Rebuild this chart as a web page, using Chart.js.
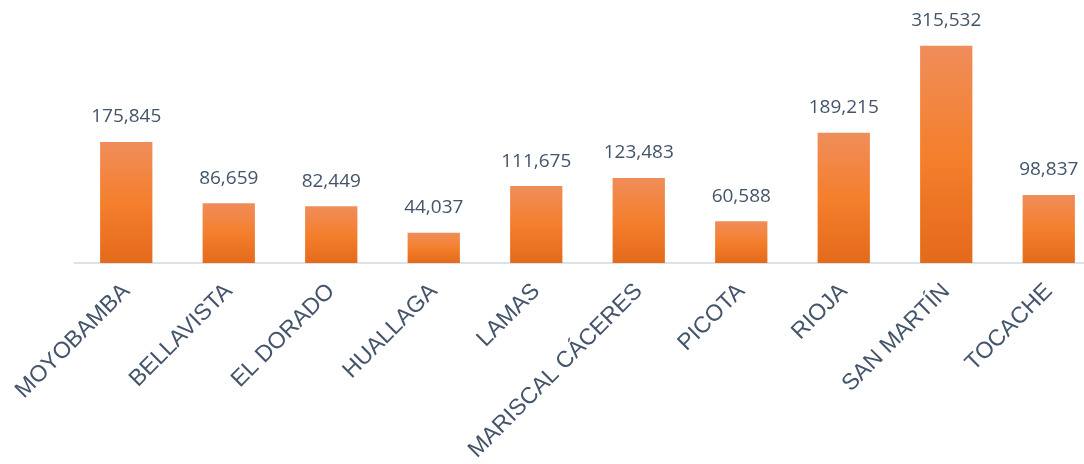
<!DOCTYPE html>
<html>
<head>
<meta charset="utf-8">
<script src="https://cdn.jsdelivr.net/npm/chart.js@4"></script>
<style>
  html, body { margin: 0; padding: 0; background: #ffffff; overflow: hidden; }
  #wrap { width: 1100px; height: 464px; }
</style>
</head>
<body>
<div id="wrap"><canvas id="chart" width="1100" height="464"></canvas></div>
<script>
// Data
const provinces = ['MOYOBAMBA', 'BELLAVISTA', 'EL DORADO', 'HUALLAGA', 'LAMAS',
    'MARISCAL CÁCERES', 'PICOTA', 'RIOJA', 'SAN MARTÍN', 'TOCACHE'];
const population = [175845, 86659, 82449, 44037, 111675, 123483, 60588, 189215, 315532, 98837];

const textColor = '#44546a';

// orange gradient per bar, light at the top, darker at the base
function barFill(context) {
    const chart = context.chart;
    if (!chart.chartArea || context.type !== 'data') return '#f47e2e';
    const y = chart.scales.y;
    const top = y.getPixelForValue(context.raw);
    const bottom = y.getPixelForValue(0);
    const g = chart.ctx.createLinearGradient(0, top, 0, bottom);
    g.addColorStop(0, '#f08d5a');
    g.addColorStop(0.5, '#f47f2d');
    g.addColorStop(1, '#e46a1b');
    return g;
}

// value labels above the bars
const valueLabels = {
    id: 'valueLabels',
    afterDatasetsDraw(chart) {
        const ctx = chart.ctx;
        const meta = chart.getDatasetMeta(0);
        ctx.save();
        ctx.font = '19px "Open Sans", sans-serif';
        ctx.fillStyle = textColor;
        ctx.textAlign = 'center';
        ctx.textBaseline = 'middle';
        meta.data.forEach((bar, i) => {
            ctx.fillText(population[i].toLocaleString('en-US'), bar.x, bar.y - 25);
        });
        ctx.restore();
    }
};

new Chart(document.getElementById('chart'), {
    type: 'bar',
    data: {
        labels: provinces,
        datasets: [{
            data: population,
            backgroundColor: barFill,
            borderWidth: 0,
            categoryPercentage: 1,
            barPercentage: 0.51
        }]
    },
    options: {
        responsive: false,
        animation: false,
        layout: { padding: { left: 75, top: 22, right: 0, bottom: 0 } },
        plugins: { legend: { display: false }, tooltip: { enabled: false } },
        scales: {
            y: { display: false, min: 0, max: 350000 },
            x: {
                afterFit: function(scale) { scale.height = 201; },
                grid: { display: true, drawOnChartArea: false, drawTicks: false },
                border: { display: true, color: '#dde2e8', width: 2 },
                ticks: {
                    color: textColor,
                    font: { family: '"Liberation Sans", Arial, sans-serif', size: 23 },
                    minRotation: 45,
                    maxRotation: 45,
                    autoSkip: false,
                    padding: 15
                }
            }
        }
    },
    plugins: [valueLabels]
});
</script>
</body>
</html>
